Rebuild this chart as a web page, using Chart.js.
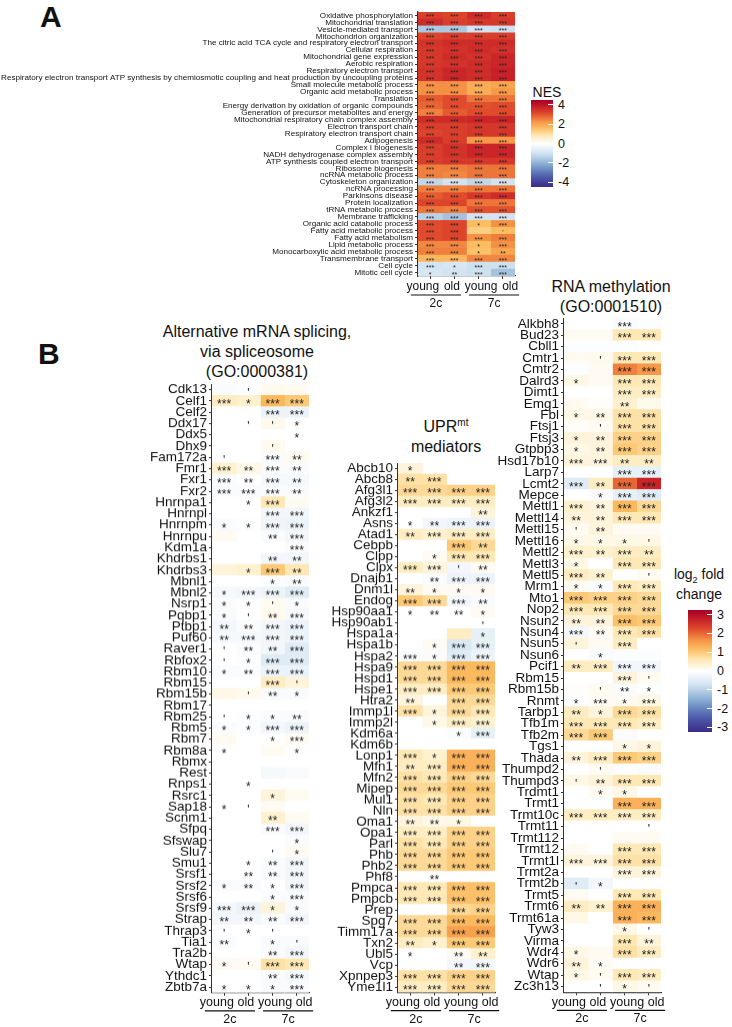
<!DOCTYPE html>
<html>
<head>
<meta charset="utf-8">
<script src="https://cdn.jsdelivr.net/npm/chart.js@4.4.1/dist/chart.umd.min.js"></script>
<style>
  body { margin: 0; width: 732px; height: 1027px; position: relative; overflow: hidden; background: #fff;
         font-family: "Liberation Sans", Arial, sans-serif; color: #111; }
  canvas { position: absolute; }
  .txt { position: absolute; white-space: nowrap; text-align: center; transform: translateX(-50%); }
  .panel { position: absolute; font-weight: bold; font-size: 30px; }
  .bar { position: absolute; }
  .tick { position: absolute; font-size: 12.5px; line-height: 12px; }
  sup, sub { line-height: 0; }
</style>
</head>
<body>
<div class="panel" style="left:40px;top:0px">A</div>
<div class="panel" style="left:38px;top:337px">B</div>

<div class="txt" style="left:257px;top:322px;font-size:16px;line-height:20px">Alternative mRNA splicing,<br>via spliceosome<br>(GO:0000381)</div>
<div class="txt" style="left:446px;top:417px;font-size:16px;line-height:20px">UPR<sup style="font-size:10px">mt</sup><br>mediators</div>
<div class="txt" style="left:611px;top:277px;font-size:16px;line-height:20px">RNA methylation<br>(GO:0001510)</div>

<div class="txt" style="left:547px;top:84px;font-size:14px">NES</div>
<div class="bar" id="nesBar" style="left:531px;top:100px;width:22px;height:87px"></div>
<div class="txt" style="left:699px;top:564px;font-size:14px;line-height:20px">log<sub style="font-size:9px">2</sub> fold<br>change</div>
<div class="bar" id="fcBar" style="left:688px;top:610px;width:24px;height:122px"></div>

<script>
// ---------- data ----------
const colLabels = ['young', 'old', 'young', 'old'];
const groupLabels = ['2c', '7c'];

// Panel A: GSEA NES, columns young 2c, old 2c, young 7c, old 7c
const nesTerms = [
  'Oxidative phosphorylation', 'Mitochondrial translation', 'Vesicle-mediated transport',
  'Mitochondrion organization', 'The citric acid TCA cycle and respiratory electron transport',
  'Cellular respiration', 'Mitochondrial gene expression', 'Aerobic respiration',
  'Respiratory electron transport',
  'Respiratory electron transport ATP synthesis by chemiosmotic coupling and heat production by uncoupling proteins',
  'Small molecule metabolic process', 'Organic acid metabolic process', 'Translation',
  'Energy derivation by oxidation of organic compounds', 'Generation of precursor metabolites and energy',
  'Mitochondrial respiratory chain complex assembly', 'Electron transport chain',
  'Respiratory electron transport chain', 'Adipogenesis', 'Complex I biogenesis',
  'NADH dehydrogenase complex assembly', 'ATP synthesis coupled electron transport',
  'Ribosome biogenesis', 'ncRNA metabolic process', 'Cytoskeleton organization', 'ncRNA processing',
  'Parkinsons disease', 'Protein localization', 'tRNA metabolic process', 'Membrane trafficking',
  'Organic acid catabolic process', 'Fatty acid metabolic process', 'Fatty acid metabolism',
  'Lipid metabolic process', 'Monocarboxylic acid metabolic process', 'Transmembrane transport',
  'Cell cycle', 'Mitotic cell cycle'
];
const nesValues = [
  [3.3, 3.2, 3.6, 3.3], [3.6, 3.3, 3.4, 3.4], [-1.6, -1.6, -1.0, -1.1], [3.2, 3.3, 3.3, 3.3],
  [3.5, 3.6, 3.6, 3.6], [3.4, 3.5, 3.6, 3.5], [3.4, 3.6, 3.5, 3.7], [3.4, 3.5, 3.6, 3.7],
  [3.5, 3.7, 3.6, 3.8], [3.5, 3.7, 3.6, 3.8], [2.3, 2.3, 1.9, 2.0], [2.3, 2.3, 1.9, 2.2],
  [2.9, 3.1, 2.6, 2.6], [2.8, 3.1, 3.0, 3.1], [2.5, 2.9, 3.1, 3.1], [3.6, 3.6, 3.7, 3.7],
  [3.3, 3.3, 3.4, 3.4], [3.2, 3.3, 3.4, 3.4], [3.6, 3.3, 2.2, 2.2], [3.3, 3.5, 3.7, 3.7],
  [3.3, 3.5, 3.7, 3.7], [3.3, 3.4, 3.4, 3.4], [2.5, 2.5, 2.6, 2.6], [2.5, 2.4, 2.6, 2.6],
  [-1.3, -1.0, -1.3, -1.0], [2.5, 2.5, 2.6, 2.6], [2.9, 3.1, 3.4, 3.6], [3.2, 3.2, 2.6, 2.6],
  [2.6, 2.5, 3.0, 3.0], [-1.4, -1.7, -1.0, -1.0], [3.1, 3.2, 1.6, 2.3], [3.1, 3.2, 1.3, 1.6],
  [3.1, 3.2, 2.3, 2.5], [2.4, 2.4, 1.6, 2.3], [2.5, 2.5, 1.5, 2.0], [1.7, 1.7, 2.4, 2.4],
  [-1.0, -0.9, -1.1, -1.1], [-0.9, -1.0, -1.1, -1.7]
];
const nesSig = [
  '*** *** *** ***', '*** *** *** ***', '*** *** *** ***', '*** *** *** ***', '*** *** *** ***',
  '*** *** *** ***', '*** *** *** ***', '*** *** *** ***', '*** *** *** ***', '*** *** *** ***',
  '*** *** *** ***', '*** *** *** ***', '*** *** *** ***', '*** *** *** ***', '*** *** *** ***',
  '*** *** *** ***', '*** *** *** ***', '*** *** *** ***', '*** *** *** ***', '*** *** *** ***',
  '*** *** *** ***', '*** *** *** ***', '*** *** *** ***', '*** *** *** ***', '*** *** *** ***',
  '*** *** *** ***', '*** *** *** ***', '*** *** *** ***', '*** *** *** ***', '*** *** *** ***',
  '*** *** * ***', "*** *** - '", '*** *** *** ***', '*** *** * ***', '*** *** * **',
  '*** *** *** ***', '*** * *** ***', '* ** *** ***'
];

// Panel B: log2 fold change
const splGenes = ['Cdk13', 'Celf1', 'Celf2', 'Ddx17', 'Ddx5', 'Dhx9', 'Fam172a', 'Fmr1', 'Fxr1', 'Fxr2',
  'Hnrnpa1', 'Hnrnpl', 'Hnrnpm', 'Hnrnpu', 'Kdm1a', 'Khdrbs1', 'Khdrbs3', 'Mbnl1', 'Mbnl2', 'Nsrp1',
  'Pqbp1', 'Ptbp1', 'Puf60', 'Raver1', 'Rbfox2', 'Rbm10', 'Rbm15', 'Rbm15b', 'Rbm17', 'Rbm25',
  'Rbm5', 'Rbm7', 'Rbm8a', 'Rbmx', 'Rest', 'Rnps1', 'Rsrc1', 'Sap18', 'Scnm1', 'Sfpq',
  'Sfswap', 'Slu7', 'Smu1', 'Srsf1', 'Srsf2', 'Srsf6', 'Srsf9', 'Strap', 'Thrap3', 'Tia1',
  'Tra2b', 'Wtap', 'Ythdc1', 'Zbtb7a'];
const splFC = [
  [-0.1, -0.05, 0.15, 0.1], [0.5, 0.4, 1.2, 1.0], [0, 0, -0.3, -0.3], [0, 0, 0.15, 0], [0, 0, 0, 0],
  [0, 0, 0.15, 0], [0, 0, -0.1, 0.1], [0.4, 0.2, -0.1, -0.1], [-0.1, 0, -0.15, -0.15], [-0.1, -0.1, -0.1, -0.1],
  [0, 0, 0.6, 0.1], [0, 0, -0.2, -0.2], [-0.1, -0.05, -0.25, -0.3], [0.1, 0, -0.1, -0.2], [0, 0, 0, -0.1],
  [0, 0, -0.2, -0.2], [0.3, 0.4, 1.0, 0.6], [0, 0, -0.05, -0.1], [-0.15, -0.2, -0.3, -0.5], [-0.1, -0.05, 0.1, -0.1],
  [-0.1, 0, 0.15, -0.15], [-0.2, -0.1, -0.2, -0.3], [-0.15, -0.15, -0.2, -0.3], [0, -0.1, -0.2, -0.5], [0, -0.05, -0.5, -0.5],
  [-0.1, -0.1, -0.3, -0.3], [0, 0, 0.5, 0.3], [0.2, 0.15, -0.1, -0.1], [0, 0, 0, 0], [0, -0.05, -0.1, -0.1],
  [-0.1, -0.05, -0.2, -0.3], [0.1, 0, 0, 0.1], [0, 0, 0.1, 0], [0, 0, 0, 0], [0, 0, -0.15, -0.1],
  [0, 0, 0, 0], [0, 0, 0.3, 0.1], [0, 0, 0.1, 0], [0, 0, 0.4, 0.1], [0, 0, -0.1, -0.2],
  [0, 0, 0, -0.1], [0, 0, 0, 0.1], [0, 0, -0.1, -0.2], [0, 0, -0.1, -0.2], [-0.1, -0.1, 0, -0.2],
  [0, 0, -0.1, -0.1], [-0.2, -0.3, 0.3, -0.1], [-0.2, -0.2, -0.1, -0.2], [0, 0, 0, 0], [-0.1, 0, -0.1, -0.1],
  [0, 0, -0.1, -0.2], [0.1, 0.1, 0.7, 0.6], [0, 0, -0.1, -0.15], [0, 0, -0.1, -0.1]
];
const splSig = [
  "- ' - -", '*** * *** ***', '- - *** ***', "- ' ' *", '- - - *', "- - ' -", "' - *** **", '*** ** *** **',
  '*** ** *** **', '*** *** *** **', '- * *** -', '- - *** ***', '* * *** ***', '- - ** ***', '- - - ***',
  '- - ** **', '- * *** **', '- - * **', '* *** *** ***', "* * ' *", "* ' ** ***", '** ** *** ***',
  '** *** *** ***', "' ** ** ***", "' * *** ***", '* ** *** ***', "- - *** '", "- ' ** *", '- - - -',
  "' * * **", '* * *** ***', '- - * ***', '* - - *', '- - - -', '- - - -', '- * - -', '- - * -',
  "* ' - -", '- - ** -', '- - *** ***', '- - - *', "- - ' *", '- * ** ***', '- ** ** ***',
  '* ** * ***', '- - * ***', '*** *** * *', '** ** ** ***', "' * ' -", "** - * '", '- - ** ***',
  "* ' *** ***", '- - ** ***', '* * * ***'
];

const uprGenes = ['Abcb10', 'Abcb8', 'Afg3l1', 'Afg3l2', 'Ankzf1', 'Asns', 'Atad1', 'Cebpb', 'Clpp', 'Clpx',
  'Dnajb1', 'Dnm1l', 'Endog', 'Hsp90aa1', 'Hsp90ab1', 'Hspa1a', 'Hspa1b', 'Hspa2', 'Hspa9', 'Hspd1',
  'Hspe1', 'Htra2', 'Immp1l', 'Immp2l', 'Kdm6a', 'Kdm6b', 'Lonp1', 'Mfn1', 'Mfn2', 'Mipep',
  'Mul1', 'Nln', 'Oma1', 'Opa1', 'Parl', 'Phb', 'Phb2', 'Phf8', 'Pmpca', 'Pmpcb',
  'Prep', 'Spg7', 'Timm17a', 'Txn2', 'Ubl5', 'Vcp', 'Xpnpep3', 'Yme1l1'];
const uprFC = [
  [0.3, 0, 0, 0], [0.7, 0.7, 0, 0], [0.8, 0.8, 0.9, 0.9], [0.5, 0.5, 0.5, 0.5], [0, 0, 0, 0.3],
  [0, -0.2, -0.3, -0.3], [0.5, 0.4, 0.5, 0.5], [0, 0, 1.0, 0.8], [0, 0.1, 0.6, 0.6], [0.5, 0.3, -0.2, 0.1],
  [0, -0.1, -0.3, -0.3], [0.3, 0.1, 0.1, 0.1], [1.0, 0.8, -0.2, -0.1], [0, 0, 0, 0.1], [0, 0, 0, 0],
  [0, 0, 0.5, -0.4], [0, 0.1, -0.6, -0.4], [-0.1, -0.1, -0.5, -0.3], [0.8, 0.8, 1.2, 1.2], [0.8, 0.8, 1.2, 1.2],
  [0.5, 0.5, 1.0, 1.0], [0.3, 0, 0.8, 0.8], [0.7, 0.3, 0.8, 0.6], [0, 0.2, 0.5, 0.4], [0, 0, -0.1, -0.4],
  [0, 0, 0, 0], [0.6, 0.4, 1.3, 1.3], [0.5, 0.5, 1.3, 1.3], [0.7, 0.6, 0.9, 0.8], [0.8, 0.8, 1.0, 1.0],
  [0.7, 0.6, 0.9, 0.9], [0.7, 0.7, 0.9, 0.9], [0.3, 0.2, 0.2, 0], [0.5, 0.5, 0.9, 0.9], [0.7, 0.6, 0.9, 0.9],
  [0.8, 0.8, 1.0, 1.0], [0.8, 0.8, 1.0, 1.0], [0, 0, 0, 0], [0.6, 0.6, 1.1, 1.1], [0.6, 0.6, 1.1, 1.1],
  [0, 0, 0.8, 0.9], [0.8, 0.8, 1.2, 1.2], [0.8, 0.8, 1.5, 1.5], [0.5, 0.4, 1.0, 1.0], [0, 0, 0.1, 0.4],
  [0, 0, -0.2, -0.2], [0.7, 0.7, 0.9, 0.9], [0.5, 0.5, 0.8, 0.8]
];
const uprSig = [
  '* - - -', '** *** - -', '*** *** *** ***', '*** *** *** ***', '- - - **', '* ** *** ***',
  '** *** *** ***', '- - *** **', '- * *** ***', "*** *** ' **", '- ** *** ***', '** * * *',
  '*** *** *** **', '* ** ** *', "- - - '", '- - - *', '- * *** ***', '*** * *** ***',
  '*** *** *** ***', '*** *** *** ***', '*** *** *** ***', '** - *** ***', '*** * *** ***',
  '- * *** ***', '- - * ***', '- - - -', '*** * *** ***', '** *** *** ***', '*** *** *** ***',
  '*** *** *** ***', '*** *** *** ***', '*** *** *** ***', '** ** * -', '*** *** *** ***',
  '*** *** *** ***', '*** *** *** ***', '*** *** *** ***', '- ** - -', '*** *** *** ***',
  '*** *** *** ***', '- - *** ***', '*** *** *** ***', '*** *** *** ***', '** * *** ***',
  '* - ** **', '- - ** ***', '*** *** *** ***', '*** *** *** ***'
];

const metGenes = ['Alkbh8', 'Bud23', 'Cbll1', 'Cmtr1', 'Cmtr2', 'Dalrd3', 'Dimt1', 'Emg1', 'Fbl', 'Ftsj1',
  'Ftsj3', 'Gtpbp3', 'Hsd17b10', 'Larp7', 'Lcmt2', 'Mepce', 'Mettl1', 'Mettl14', 'Mettl15', 'Mettl16',
  'Mettl2', 'Mettl3', 'Mettl5', 'Mrm1', 'Mto1', 'Nop2', 'Nsun2', 'Nsun4', 'Nsun5', 'Nsun6',
  'Pcif1', 'Rbm15', 'Rbm15b', 'Rnmt', 'Tarbp1', 'Tfb1m', 'Tfb2m', 'Tgs1', 'Thada', 'Thumpd2',
  'Thumpd3', 'Trdmt1', 'Trmt1', 'Trmt10c', 'Trmt11', 'Trmt112', 'Trmt12', 'Trmt1l', 'Trmt2a', 'Trmt2b',
  'Trmt5', 'Trmt6', 'Trmt61a', 'Tyw3', 'Virma', 'Wdr4', 'Wdr6', 'Wtap', 'Zc3h13'];
const metFC = [
  [0, 0, -0.1, -0.05], [0.1, 0.1, 0.6, 0.6], [-0.05, -0.05, -0.05, 0], [0.1, 0.15, 0.6, 0.6], [-0.05, 0.1, 1.8, 1.6],
  [0.2, 0.1, 0.6, 0.6], [0, 0, 0.5, 0.5], [0.1, 0.05, 0.4, 0.15], [0.2, 0.2, 0.7, 0.7], [0.05, 0.1, 0.7, 0.7],
  [0.3, 0.3, 0.9, 0.9], [0.2, 0.3, 1.0, 0.9], [0.3, 0.3, 0.5, 0.5], [0, 0, -0.4, -0.4], [-0.5, 0.5, 2.0, 2.7],
  [0, -0.1, -0.4, -0.5], [0.4, 0.3, 1.2, 0.8], [0.3, 0.3, 0.6, 0.6], [0.1, 0.3, 0.1, 0.1], [0.2, 0.2, 0.2, 0.2],
  [0.4, 0.4, 0.5, 0.5], [0.2, 0, 0.6, 0.6], [0.5, 0.4, 0, 0.1], [0.1, -0.1, 0.6, 0.5], [1.0, 0.9, 0.9, 0.8],
  [0.6, 0.6, 0.8, 0.8], [0.3, 0.3, 1.1, 1.0], [-0.2, 0.1, 0.6, 0.7], [0.3, 0.1, 0.5, 0], [0, -0.1, -0.05, -0.05],
  [0.5, 0.5, -0.2, -0.2], [0, 0, 0.3, 0.1], [0.05, 0.1, -0.1, -0.05], [-0.05, 0.1, 0.1, 0.2], [0.5, 0.3, 0.8, 0.7],
  [0.6, 0.6, 0.6, 0.5], [0.8, 1.0, -0.1, 0], [0, 0, 0.2, 0.3], [0.3, 0.5, 1.0, 0.9], [0, 0.1, -0.05, -0.1],
  [0.2, 0.3, 0.6, 0.6], [0, 0.1, 0.2, 0], [0, 0, 1.3, 1.3], [0.5, 0.5, 0.5, 0.5], [0, 0, 0, 0],
  [0, 0, 0.1, 0.1], [0.1, 0, 0.6, 0.6], [0.3, 0.3, 0.7, 0.7], [0, 0, 0.3, 0.3], [-0.5, -0.2, 0, 0],
  [0.1, 0, 0.6, 0.6], [0.5, 0.4, 1.3, 1.3], [0.2, 0, 1.3, 1.2], [0, 0, 0.2, 0], [0, 0, 0.6, 0.3],
  [0.2, 0.1, 0.7, 0.5], [0.3, 0.1, 0, 0], [0.2, 0.1, 0.6, 0.5], [0, 0, 0.2, 0.1]
];
const metSig = [
  '- - *** -', '- - *** ***', '- - - -', "- ' *** ***", '- - *** ***', '* - *** ***', '- - *** ***',
  '- - ** -', '* ** *** ***', "- ' *** ***", '* ** *** ***', '* ** *** ***', '*** *** ** **',
  '- - *** ***', '*** ** *** ***', '- * *** ***', '*** ** *** ***', '** ** *** ***', "' ** - -",
  "* * * '", '*** ** *** **', '* - *** ***', "*** ** - '", '* * *** ***', '*** *** *** ***',
  '*** *** *** ***', '** ** *** ***', '*** ** *** ***', "' - *** -", '- * - -', '** *** *** ***',
  "- - *** '", "- ' ** *", '* *** * ***', '** * *** ***', '*** *** *** ***', '*** *** - -',
  '- - * *', '** *** *** ***', "- ' - -", "' ** *** ***", '- * * -', '- - *** ***',
  '*** *** *** ***', "- - - '", '- - - -', '- - *** ***', '*** *** *** ***', '- - *** ***',
  "' * - -", '- - *** ***', '** ** *** ***', '- - *** ***', "- - * '", '- - *** **',
  '* - *** ***', '** * - -', "* ' *** ***", "- ' * '"
];

// ---------- colours ----------
const stops = [
  [-1, [59, 42, 134]], [-0.75, [78, 95, 174]], [-0.5, [128, 166, 208]], [-0.25, [205, 224, 239]],
  [0, [255, 255, 255]], [0.18, [254, 234, 184]], [0.35, [252, 190, 98]], [0.5, [245, 150, 70]],
  [0.67, [226, 80, 44]], [0.85, [198, 30, 40]], [1, [165, 0, 38]]
];
function colorAt(t) {
  t = Math.max(-1, Math.min(1, t));
  for (let i = 1; i < stops.length; i++) {
    if (t <= stops[i][0]) {
      const [t0, c0] = stops[i - 1], [t1, c1] = stops[i];
      const f = (t - t0) / (t1 - t0);
      const c = c0.map((v, k) => Math.round(v + (c1[k] - v) * f));
      return `rgb(${c[0]},${c[1]},${c[2]})`;
    }
  }
  return 'rgb(165,0,38)';
}

function gradientBar(id, lo, hi, max) {
  const el = document.getElementById(id);
  const parts = [];
  for (let i = 0; i <= 20; i++) {
    const v = hi - (hi - lo) * i / 20;
    parts.push(colorAt(v / max) + ' ' + (i * 5) + '%');
  }
  el.style.background = 'linear-gradient(to bottom,' + parts.join(',') + ')';
  return el;
}

function barTicks(id, lo, hi, ticks) {
  const el = document.getElementById(id);
  const top = el.offsetTop, h = el.offsetHeight, left = el.offsetLeft, w = el.offsetWidth;
  ticks.forEach(v => {
    const y = top + (hi - v) / (hi - lo) * h;
    const m = document.createElement('div');
    m.style.cssText = `position:absolute;left:${left + w - 5}px;top:${y - 0.5}px;width:5px;height:1px;background:#fff`;
    document.body.appendChild(m);
    const l = document.createElement('div');
    l.className = 'tick';
    l.style.left = (left + w + 5) + 'px';
    l.style.top = (y - 6) + 'px';
    l.textContent = v;
    document.body.appendChild(l);
  });
}

// ---------- heatmap via floating bars ----------
const overlay = {
  id: 'overlay',
  afterDatasetsDraw(chart, args, o) {
    const { ctx, scales: { x, y } } = chart;
    ctx.save();
    ctx.fillStyle = '#222';
    ctx.font = o.starFont;
    ctx.textAlign = 'center';
    ctx.textBaseline = 'alphabetic';
    o.sig.forEach((row, i) => {
      row.split(' ').forEach((s, c) => {
        if (s !== '-') ctx.fillText(s, x.getPixelForValue(c), y.getPixelForValue(i) + o.starDy);
      });
    });
    ctx.restore();
  },
  afterDraw(chart, args, o) {
    const { ctx, scales: { x }, chartArea } = chart;
    const mid = x.getPixelForValue(1.5);
    const pos = c => mid + (x.getPixelForValue(c) - mid) * 1.2;
    ctx.save();
    ctx.fillStyle = '#111';
    ctx.strokeStyle = '#111';
    ctx.lineWidth = 1.2;
    ctx.textAlign = 'center';
    ctx.textBaseline = 'middle';
    ctx.font = o.xFont;
    colLabels.forEach((l, c) => ctx.fillText(l, pos(c), chartArea.bottom + o.labelDy));
    ctx.font = o.groupFont;
    groupLabels.forEach((g, k) => {
      const a = pos(2 * k) - 12, b = pos(2 * k + 1) + 9;
      const ly = chartArea.bottom + o.lineDy;
      ctx.beginPath(); ctx.moveTo(a, ly); ctx.lineTo(b, ly); ctx.stroke();
      ctx.fillText(g, (a + b) / 2, chartArea.bottom + o.groupDy);
    });
    ctx.restore();
  }
};

function heat(o) {
  const cv = document.createElement('canvas');
  document.body.appendChild(cv);
  cv.width = o.labelW + o.w + 30; cv.height = o.h + 60;
  const datasets = [0, 1, 2, 3].map(c => ({
    data: o.rows.map(() => [c - 0.5, c + 0.5]),
    backgroundColor: o.vals.map(v => colorAt(v[c] / o.max)),
    borderWidth: 0,
    barPercentage: 1,
    categoryPercentage: 1,
    grouped: false
  }));
  const chart = new Chart(cv, {
    type: 'bar',
    data: { labels: o.rows, datasets },
    options: {
      indexAxis: 'y',
      responsive: false,
      maintainAspectRatio: false,
      animation: false,
      devicePixelRatio: 1,
      events: [],
      layout: { padding: { top: 10, right: 28, left: 0, bottom: 0 } },
      plugins: {
        legend: { display: false },
        tooltip: { enabled: false },
        overlay: { sig: o.sig, starFont: o.starFont, starDy: o.starDy, xFont: o.xFont, groupFont: o.groupFont,
          labelDy: o.labelDy, lineDy: o.lineDy, groupDy: o.groupDy }
      },
      scales: {
        x: {
          type: 'linear', min: -0.5, max: 3.5,
          afterBuildTicks: s => { s.ticks = [0, 1, 2, 3].map(v => ({ value: v })); },
          afterFit: s => { s.height = 50; },
          ticks: { callback: () => '', padding: 0, autoSkip: false, maxRotation: 0 },
          grid: { drawOnChartArea: false, tickLength: 3, color: '#333' },
          border: { display: true, color: '#333', width: 1.2 }
        },
        y: {
          type: 'category',
          afterFit: s => { s.width = o.labelW; },
          ticks: { color: '#111', font: { family: 'Liberation Sans', size: o.ySize }, padding: 2, autoSkip: false },
          grid: { drawOnChartArea: false, offset: false, tickLength: 3, color: '#333' },
          border: { display: true, color: '#333', width: 1.2 }
        }
      }
    },
    plugins: [overlay]
  });
  let ca = chart.chartArea;
  const dw = o.w - (ca.right - ca.left), dh = o.h - (ca.bottom - ca.top);
  if (Math.abs(dw) > 0.05 || Math.abs(dh) > 0.05) {
    chart.resize(chart.width + dw, chart.height + dh);
    ca = chart.chartArea;
  }
  cv.style.left = (o.x - ca.left) + 'px';
  cv.style.top = (o.y - ca.top) + 'px';
  return chart;
}

heat({ rows: nesTerms, vals: nesValues, sig: nesSig, max: 4.5, x: 418, y: 12, w: 97, h: 264,
  labelW: 418, ySize: 8.1, starFont: '7px "Liberation Sans"', starDy: 4,
  xFont: '12px "Liberation Sans"', groupFont: '12px "Liberation Sans"', labelDy: 11, lineDy: 19, groupDy: 27.5 });

const bBottom = 992;
const bCommon = { max: 3.25, w: 97, ySize: 13.5, starFont: '12px "Liberation Sans"', starDy: 6.8,
  xFont: '12.5px "Liberation Sans"', groupFont: '12.5px "Liberation Sans"', labelDy: 10, lineDy: 18, groupDy: 26.5 };
heat(Object.assign({ rows: splGenes, vals: splFC, sig: splSig, x: 212, y: 384.3,
  h: bBottom - 384.3, labelW: 212 }, bCommon));
heat(Object.assign({ rows: uprGenes, vals: uprFC, sig: uprSig, x: 398, y: 463.5,
  h: bBottom - 463.5, labelW: 90 }, bCommon));
heat(Object.assign({ rows: metGenes, vals: metFC, sig: metSig, x: 564, y: 317.8,
  h: bBottom - 317.8, labelW: 90 }, bCommon));

gradientBar('nesBar', -4.5, 4.5, 4.5);
barTicks('nesBar', -4.5, 4.5, [4, 2, 0, -2, -4]);
gradientBar('fcBar', -3.25, 3.25, 3.25);
barTicks('fcBar', -3.25, 3.25, [3, 2, 1, 0, -1, -2, -3]);
</script>
</body>
</html>
